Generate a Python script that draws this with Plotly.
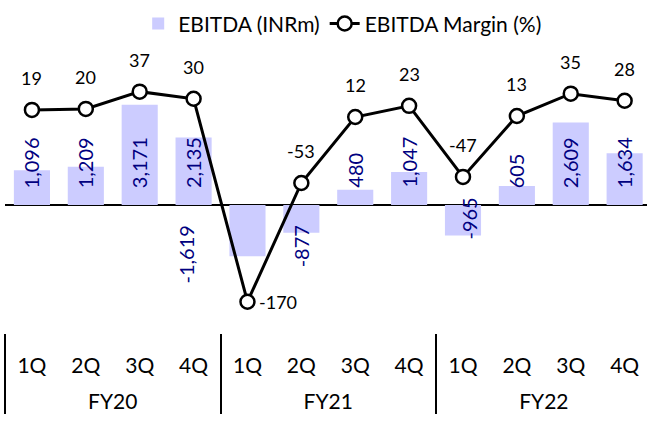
import plotly.graph_objects as go

years = ["FY20"] * 4 + ["FY21"] * 4 + ["FY22"] * 4
quarters = ["1Q", "2Q", "3Q", "4Q"] * 3
ebitda = [1096, 1209, 3171, 2135, -1619, -877, 480, 1047, -965, 605, 2609, 1634]
margin = [19, 20, 37, 30, -170, -53, 12, 23, -47, 13, 35, 28]

FONT = "Lato"
outer = ["<br>" + y for y in years]

fig = go.Figure()
fig.add_trace(go.Bar(
    x=[outer, quarters], y=ebitda, name="EBITDA (INRm)",
    marker=dict(color="#CCCCFF", line=dict(width=0)),
    yaxis="y",
))
fig.add_trace(go.Scatter(
    x=[outer, quarters], y=margin, name="EBITDA Margin (%)",
    mode="lines+markers",
    line=dict(color="black", width=3),
    marker=dict(size=14, color="white", line=dict(color="black", width=2.5)),
    yaxis="y2",
))

annotations = []
for i, v in enumerate(ebitda):
    txt = f"{v:,}"
    if v >= 0:
        y, ya, xs = 475, "bottom", 0
    else:
        y, ya, xs = -570, "top", 0
        if i == 4:
            xs = -61
        if i == 8:
            y, xs = 300, 6
    annotations.append(dict(
        x=i, y=y, xref="x", yref="y", text=txt, showarrow=False,
        textangle=-90, yanchor=ya, xanchor="center", xshift=xs,
        font=dict(family=FONT, size=20, color="#000080"),
    ))
for i, v in enumerate(margin):
    if v == min(margin):
        annotations.append(dict(
            x=i, y=v, xref="x", yref="y2", text=str(v), showarrow=False,
            xanchor="left", yanchor="middle", xshift=10,
            font=dict(family=FONT, size=18, color="black"),
        ))
    else:
        annotations.append(dict(
            x=i, y=v, xref="x", yref="y2", text=str(v), showarrow=False,
            xanchor="center", yanchor="middle", yshift=32,
            font=dict(family=FONT, size=18, color="black"),
        ))

fig.update_layout(
    width=647, height=425,
    margin=dict(l=5, r=0, t=0, b=92, autoexpand=False),
    paper_bgcolor="white", plot_bgcolor="white",
    font=dict(family=FONT, size=20, color="black"),
    bargap=0.33,
    showlegend=True,
    legend=dict(orientation="h", x=0.526, xanchor="center", y=0.99, yanchor="top",
                font=dict(family=FONT, size=21), bgcolor="rgba(0,0,0,0)"),
    xaxis=dict(type="multicategory", range=[-0.5, 11.415], showgrid=False, automargin=False,
               showline=False, showdividers=True, dividercolor="black", dividerwidth=2,
               ticks="", ticklabelstandoff=18,
               tickfont=dict(family=FONT, size=21, color="black")),
    yaxis=dict(range=[-4051, 6488], showgrid=False, showticklabels=False, automargin=False,
               zeroline=True, zerolinecolor="black", zerolinewidth=2),
    yaxis2=dict(range=[-200.8, 127.3], overlaying="y", side="right", showgrid=False,
                showticklabels=False, zeroline=False, automargin=False),
    annotations=annotations,
)
fig.write_html("out.html", config={"displayModeBar": False},
               post_script="document.body.style.margin='0px';")
